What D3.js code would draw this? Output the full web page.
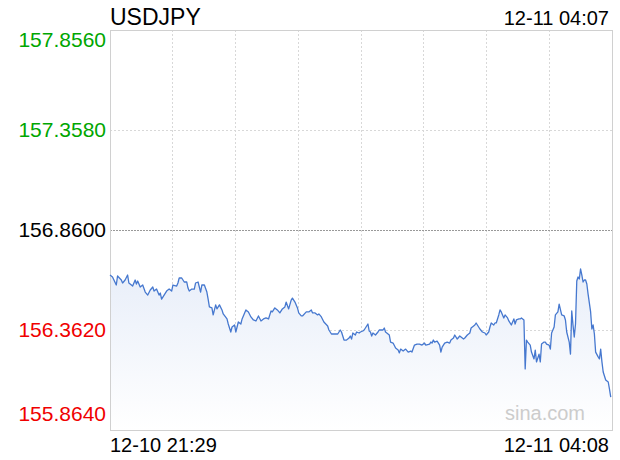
<!DOCTYPE html>
<html>
<head>
<meta charset="utf-8">
<script src="https://cdn.jsdelivr.net/npm/d3@7/dist/d3.min.js"></script>
<style>
html,body{margin:0;padding:0;background:#fff;}
svg{display:block;}
text{font-family:"Liberation Sans",Arial,Helvetica,sans-serif;}
</style>
</head>
<body>
<svg id="chart" width="620" height="460"></svg>
<script>
const symbol = "USDJPY";
const latestTime = "12-11 04:07";
const startLabel = "12-10 21:29";
const endLabel = "12-11 04:08";
const prevClose = 156.86;
const yTickValues = [157.856, 157.358, 156.860, 156.362, 155.864];
const yTickLabels = ["157.8560", "157.3580", "156.8600", "156.3620", "155.8640"];
const totalMinutes = 399;
// minutes after 21:29
const minutes = [0,2,5,6,9,10,12,14,15,17,18,20,21,22,24,26,28,30,32,34,35,37,39,40,41,43,45,47,49,50,53,54,55,57,59,61,62,63,65,67,68,70,72,73,75,77,78,79,81,82,84,85,87,89,90,93,94,96,97,99,100,102,104,105,108,110,112,114,116,118,120,122,124,126,128,129,131,133,135,137,139,140,142,144,145,147,149,150,152,153,156,158,160,161,163,165,166,168,170,173,174,176,178,181,183,184,186,188,190,191,192,193,195,196,198,199,201,202,203,205,206,207,208,209,211,213,214,217,218,219,222,223,225,227,229,230,231,233,235,237,239,240,242,244,246,248,250,251,254,255,256,257,258,260,262,263,264,266,268,270,271,273,274,276,278,279,281,282,284,286,287,288,290,291,293,294,296,298,299,301,302,303,305,306,307,309,310,311,313,314,316,317,319,321,322,323,325,326,327,329,330,331,332,334,335,337,338,339,341,342,343,345,346,347,349,350,351,353,354,356,357,359,361,362,363,365,366,367,368,369,370,371,372,373,374,375,376,377,378,379,380,382,383,384,385,386,388,389,390,391,392,394,396,397,398];
const prices = [156.636,156.626,156.586,156.631,156.611,156.596,156.611,156.636,156.596,156.586,156.581,156.611,156.591,156.606,156.576,156.586,156.551,156.536,156.561,156.576,156.556,156.566,156.536,156.546,156.516,156.536,156.556,156.566,156.556,156.586,156.581,156.596,156.621,156.621,156.601,156.601,156.571,156.556,156.566,156.566,156.596,156.601,156.551,156.586,156.586,156.551,156.516,156.477,156.472,156.437,156.487,156.467,156.487,156.462,156.442,156.417,156.392,156.352,156.377,156.387,156.352,156.402,156.392,156.417,156.462,156.452,156.427,156.412,156.407,156.432,156.407,156.417,156.422,156.417,156.457,156.452,156.472,156.462,156.447,156.467,156.477,156.501,156.467,156.511,156.521,156.501,156.472,156.447,156.432,156.432,156.452,156.452,156.462,156.447,156.447,156.437,156.442,156.427,156.402,156.382,156.362,156.342,156.342,156.342,156.362,156.352,156.312,156.312,156.322,156.332,156.317,156.347,156.337,156.352,156.347,156.352,156.357,156.362,156.372,156.392,156.357,156.352,156.332,156.347,156.337,156.352,156.362,156.362,156.372,156.352,156.337,156.302,156.297,156.272,156.262,156.248,156.267,156.257,156.267,156.252,156.257,156.252,156.287,156.292,156.292,156.287,156.297,156.287,156.292,156.302,156.297,156.312,156.302,156.307,156.287,156.252,156.277,156.297,156.302,156.297,156.312,156.322,156.337,156.317,156.332,156.327,156.317,156.322,156.337,156.347,156.372,156.377,156.387,156.397,156.377,156.367,156.352,156.347,156.337,156.352,156.377,156.397,156.387,156.397,156.397,156.437,156.462,156.452,156.422,156.437,156.422,156.407,156.387,156.417,156.392,156.412,156.417,156.417,156.422,156.412,156.168,156.312,156.302,156.287,156.252,156.218,156.262,156.203,156.242,156.203,156.292,156.302,156.302,156.292,156.287,156.267,156.347,156.377,156.437,156.452,156.491,156.437,156.432,156.412,156.352,156.302,156.242,156.457,156.387,156.327,156.392,156.606,156.626,156.616,156.666,156.636,156.601,156.611,156.611,156.591,156.541,156.452,156.367,156.387,156.342,156.252,156.228,156.218,156.267,156.203,156.153,156.113,156.103,156.068,156.028];

const data = minutes.map((m, i) => ({m, p: prices[i]}));

const W = 620, H = 460;
const margin = {left: 110, right: 8, top: 30, bottom: 30};
const svg = d3.select("#chart");
const x = d3.scaleLinear().domain([0, totalMinutes]).range([margin.left, W - margin.right]);
const y = d3.scaleLinear().domain([yTickValues[4], yTickValues[0]]).range([H - margin.bottom, margin.top]);

const defs = svg.append("defs");
const grad = defs.append("linearGradient").attr("id", "fillGrad").attr("x1", 0).attr("y1", 0).attr("x2", 0).attr("y2", 1);
grad.append("stop").attr("offset", "0%").attr("stop-color", "#e8eef9").attr("stop-opacity", 1);
grad.append("stop").attr("offset", "100%").attr("stop-color", "#ffffff").attr("stop-opacity", 1);

// vertical grid
const vGrid = d3.range(1, 8).map(i => i * totalMinutes / 8);
svg.append("g").selectAll("line").data(vGrid).join("line")
  .attr("x1", d => x(d)).attr("x2", d => x(d))
  .attr("y1", y.range()[1]).attr("y2", y.range()[0])
  .attr("stroke", "#d8d8d8").attr("stroke-width", 1).attr("stroke-dasharray", "2,2")
  .attr("shape-rendering", "crispEdges");

// horizontal grid
svg.append("g").selectAll("line").data([yTickValues[1], yTickValues[3]]).join("line")
  .attr("x1", x.range()[0]).attr("x2", x.range()[1])
  .attr("y1", d => y(d)).attr("y2", d => y(d))
  .attr("stroke", "#d8d8d8").attr("stroke-width", 1).attr("stroke-dasharray", "2,2")
  .attr("shape-rendering", "crispEdges");

// area
const area = d3.area().x(d => x(d.m)).y0(y.range()[0]).y1(d => y(d.p));
svg.append("path").datum(data).attr("d", area).attr("fill", "url(#fillGrad)");

// previous close line
svg.append("line")
  .attr("x1", x.range()[0]).attr("x2", x.range()[1])
  .attr("y1", y(prevClose)).attr("y2", y(prevClose))
  .attr("stroke", "#999").attr("stroke-width", 1).attr("stroke-dasharray", "2,1")
  .attr("shape-rendering", "crispEdges");

// border
svg.append("rect")
  .attr("x", x.range()[0] + 0.5).attr("y", y.range()[1] + 0.5)
  .attr("width", x.range()[1] - x.range()[0]).attr("height", y.range()[0] - y.range()[1])
  .attr("fill", "none").attr("stroke", "#d0d0d0").attr("stroke-width", 1)
  .attr("shape-rendering", "crispEdges");

// line
const line = d3.line().x(d => x(d.m)).y(d => y(d.p));
svg.append("path").datum(data).attr("d", line)
  .attr("fill", "none").attr("stroke", "#4678cf").attr("stroke-width", 1.3)
  .attr("stroke-linejoin", "round");

// y labels
const yLab = svg.append("g");
yTickValues.forEach((v, i) => {
  const color = v > prevClose + 1e-9 ? "#00a600" : (v < prevClose - 1e-9 ? "#f00000" : "#000");
  let dy = "0.35em";
  if (i === 0) dy = "0.8em";
  if (i === yTickValues.length - 1) dy = "-0.45em";
  yLab.append("text")
    .attr("x", margin.left - 4).attr("y", y(v)).attr("dy", dy)
    .attr("text-anchor", "end").attr("font-size", 21).attr("fill", color)
    .text(yTickLabels[i]);
});

// title and times
svg.append("text").attr("x", margin.left).attr("y", 25).attr("font-size", 23).attr("fill", "#000").text(symbol);
svg.append("text").attr("x", W - margin.right - 3).attr("y", 25).attr("text-anchor", "end").attr("font-size", 20).attr("fill", "#000").text(latestTime);
svg.append("text").attr("x", margin.left).attr("y", 452).attr("font-size", 20).attr("fill", "#000").text(startLabel);
svg.append("text").attr("x", W - margin.right - 3).attr("y", 452).attr("text-anchor", "end").attr("font-size", 20).attr("fill", "#000").text(endLabel);

// watermark
svg.append("text").attr("x", 585).attr("y", 420).attr("text-anchor", "end").attr("font-size", 20).attr("fill", "#cccccc").text("sina.com");
</script>
</body>
</html>
